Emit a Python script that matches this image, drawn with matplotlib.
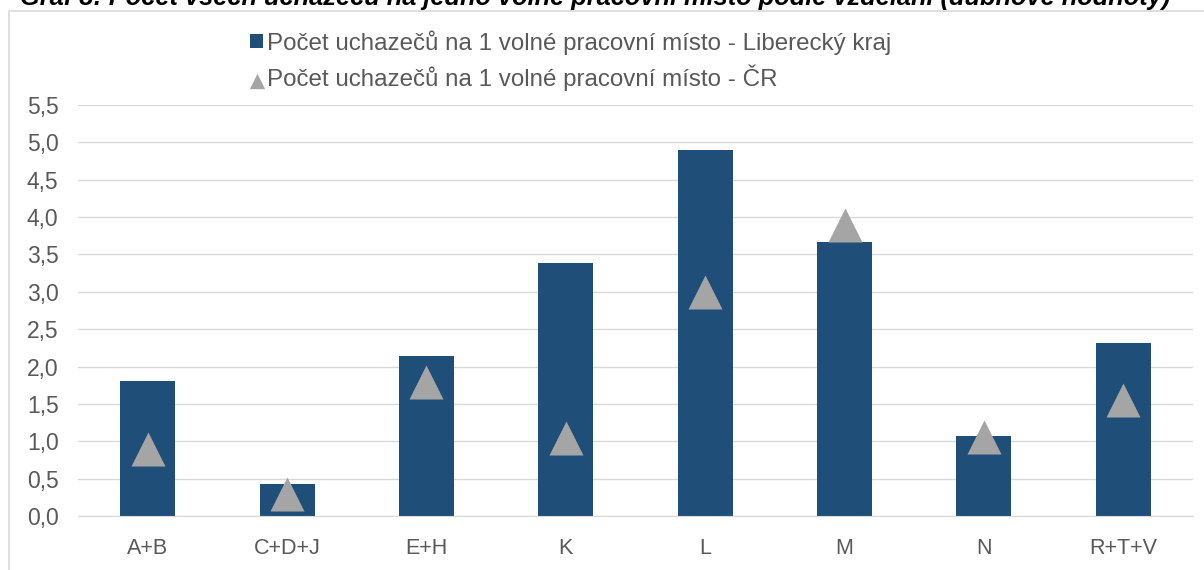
import matplotlib
matplotlib.use("Agg")
import matplotlib.pyplot as plt
from matplotlib.patches import Rectangle
from matplotlib.ticker import FuncFormatter, MultipleLocator

categories = ["A+B", "C+D+J", "E+H", "K", "L", "M", "N", "R+T+V"]
liberecky = [1.80, 0.43, 2.14, 3.38, 4.90, 3.67, 1.07, 2.31]
cr = [0.89, 0.29, 1.79, 1.05, 3.00, 3.90, 1.06, 1.55]
label_lk = "Počet uchazečů na 1 volné pracovní místo - Liberecký kraj"
label_cr = "Počet uchazečů na 1 volné pracovní místo - ČR"
title = "Graf 8: Počet všech uchazečů na jedno volné pracovní místo podle vzdělání (dubnové hodnoty)"

plt.rcParams['font.family'] = ['Liberation Sans', 'DejaVu Sans']

W, H = 1204, 570
fig = plt.figure(figsize=(W / 100, H / 100), dpi=100)

# outer chart frame
fig.patches.append(Rectangle((9 / W, -0.1), 1.2, (H - 11) / H + 0.1, transform=fig.transFigure,
                             fill=False, edgecolor="#D9D9D9", linewidth=1.2))
# title (cut off at the top edge as in the reference)
fig.text(20 / W, 1 - 5.5 / H, title, ha="left", va="baseline", fontsize=18.3,
         fontweight="bold", fontstyle="italic", color="black")

ax = fig.add_axes([78 / W, 54 / H, (1193 - 78) / W, 411 / H])
x = list(range(len(categories)))
bars = ax.bar(x, liberecky, width=0.395, color="#1F4E79", zorder=2, label=label_lk)
pts = ax.scatter(x, cr, marker="^", s=24.5 ** 2, color="#A5A5A5", zorder=3,
                 linewidths=0, label=label_cr)

ax.set_xlim(-0.5, len(categories) - 0.5)
ax.set_ylim(0, 5.5)
ax.yaxis.set_major_locator(MultipleLocator(0.5))
ax.yaxis.set_major_formatter(FuncFormatter(lambda v, p: f"{v:.1f}".replace(".", ",")))
ax.set_xticks(x)
ax.set_xticklabels(categories)
ax.grid(axis="y", color="#D9D9D9", linewidth=1, zorder=0)
for s in ["top", "right", "left"]:
    ax.spines[s].set_visible(False)
ax.spines["bottom"].set_color("#D9D9D9")
ax.tick_params(axis="both", length=0, colors="#595959")
ax.tick_params(axis="y", pad=14, labelsize=16.5)
ax.tick_params(axis="x", pad=16, labelsize=15.5)

leg = fig.legend(handles=[bars, pts], labels=[label_lk, label_cr], loc="upper left",
                 bbox_to_anchor=(250 / W, 1 - 30 / H), frameon=False, fontsize=17.4,
                 labelcolor="#595959", handlelength=0.55, handleheight=0.55,
                 handletextpad=0.15, labelspacing=0.42, borderpad=0,
                 borderaxespad=0, markerscale=0.45)

fig.savefig("out.png", dpi=100)
